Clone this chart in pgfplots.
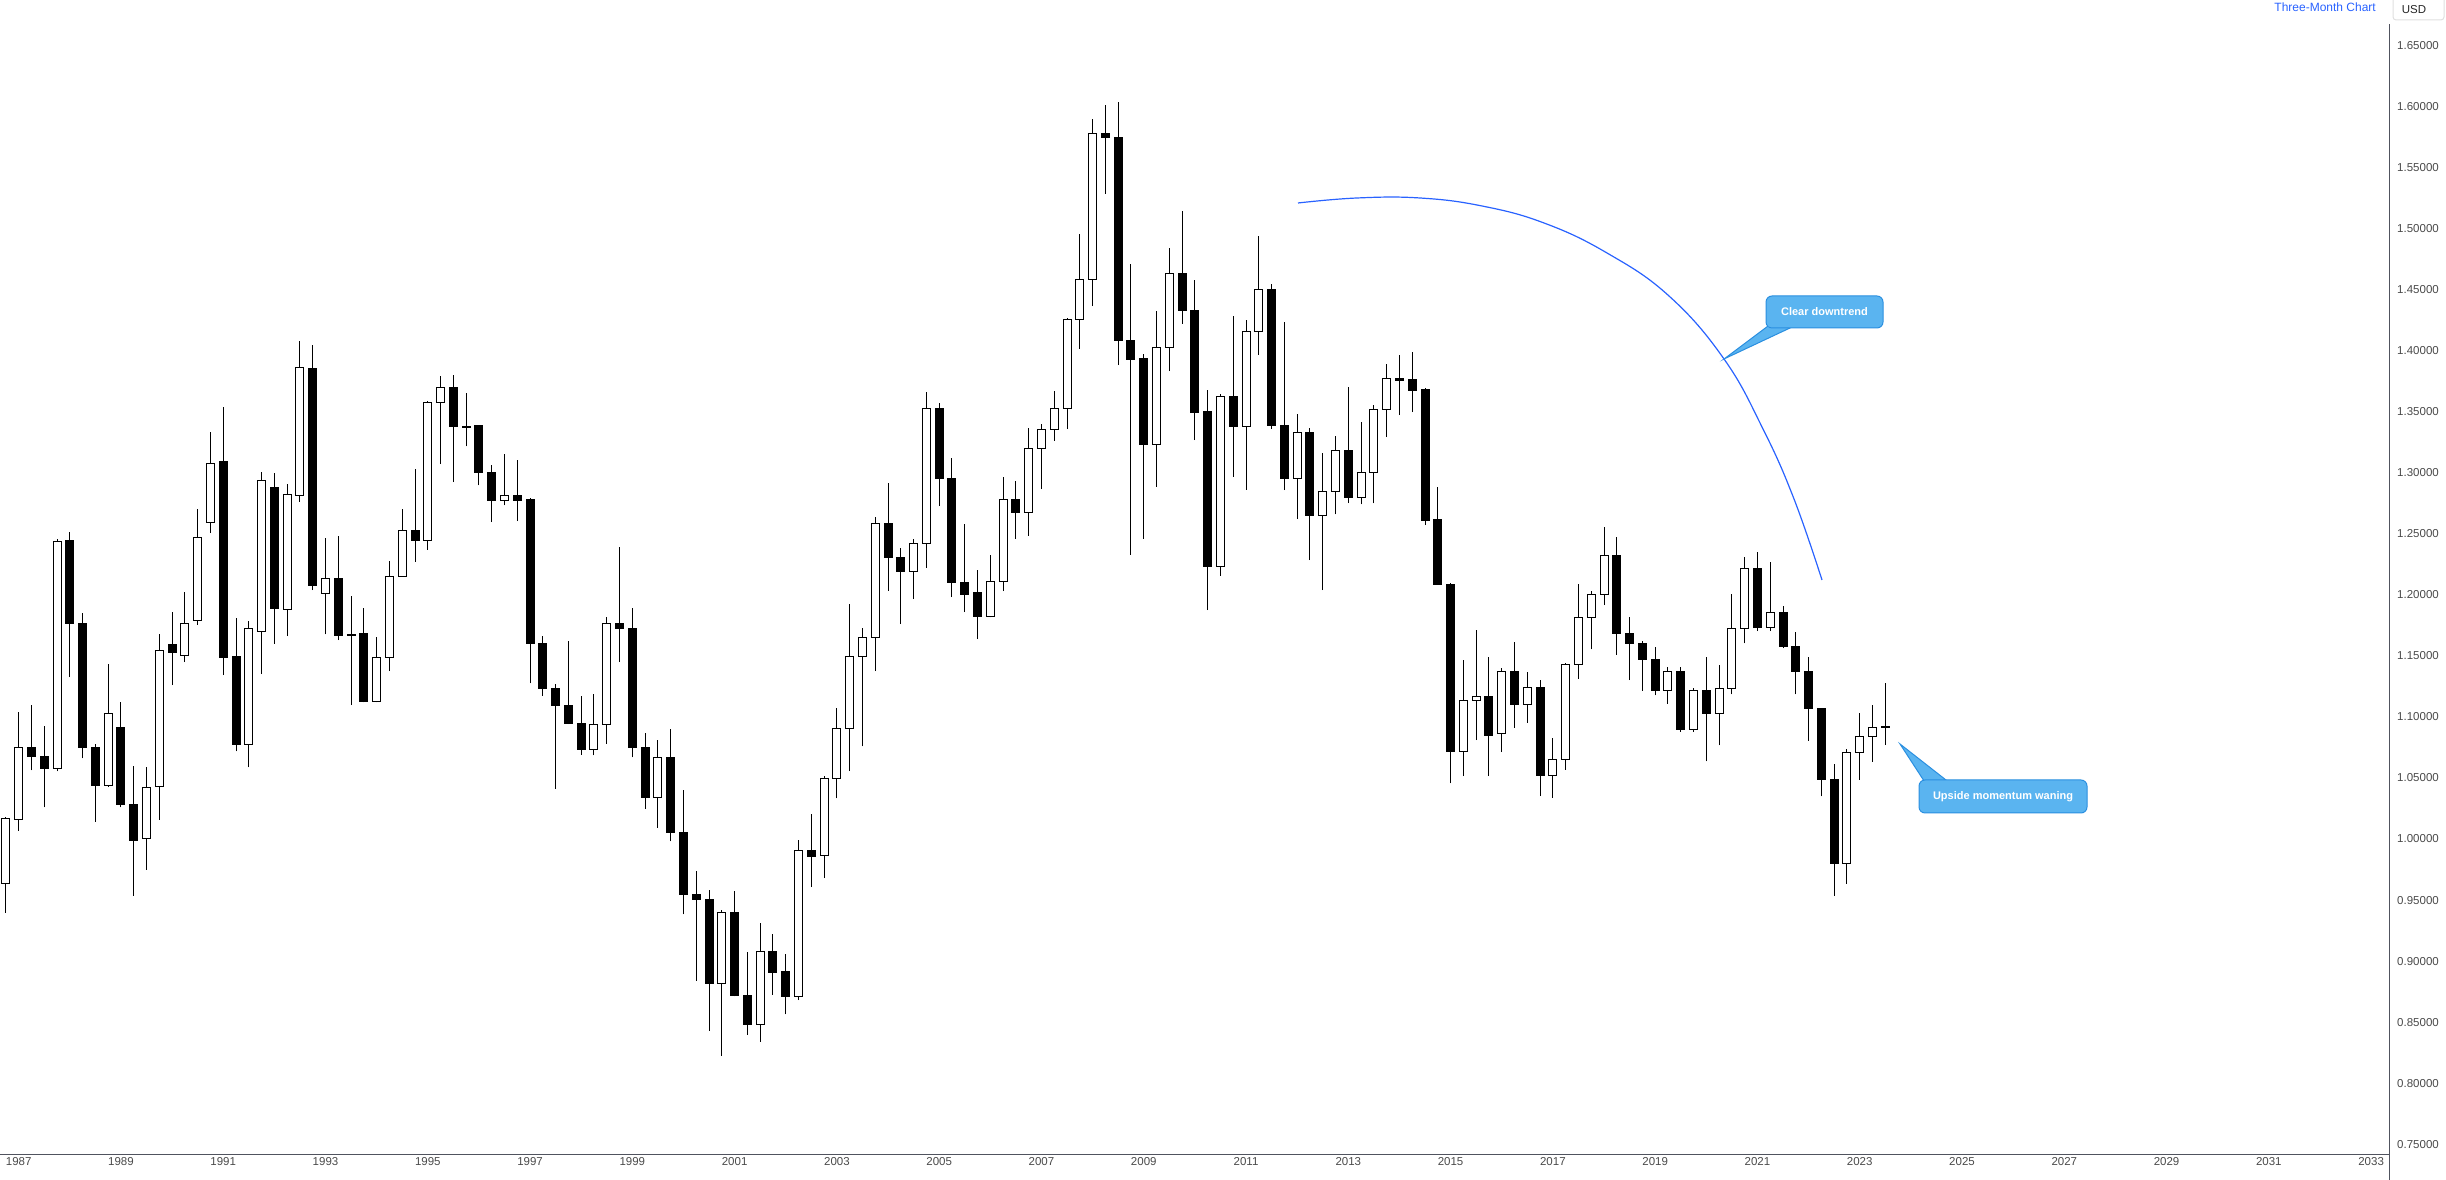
\documentclass[border=0pt]{standalone}
\usepackage{pgfplots}
\pgfplotsset{compat=1.18}
\usepackage{pgfplotstable}
\usepackage{fontspec}
\setmainfont{Liberation Sans}
\definecolor{axisgray}{HTML}{50535E}
\definecolor{labelgray}{HTML}{4A4A4A}
\definecolor{tvblue}{HTML}{2962FF}
\definecolor{callfill}{HTML}{5AB4F0}
\definecolor{callborder}{HTML}{2A8FE0}

\pgfplotstableread{
x o h l c
1986.75 0.9639 1.0181 0.9397 1.0170
1987.00 1.0162 1.1043 1.0068 1.0752
1987.25 1.0752 1.1101 1.0563 1.0678
1987.50 1.0680 1.0922 1.0259 1.0579
1987.75 1.0579 1.2456 1.0554 1.2437
1988.00 1.2445 1.2513 1.1326 1.1762
1988.25 1.1762 1.1851 1.0661 1.0752
1988.50 1.0752 1.0782 1.0143 1.0439
1988.75 1.0439 1.1430 1.0430 1.1026
1989.00 1.0912 1.1120 1.0259 1.0283
1989.25 1.0283 1.0600 0.9535 0.9990
1989.50 1.0001 1.0592 0.9749 1.0425
1989.75 1.0430 1.1678 1.0160 1.1543
1990.00 1.1593 1.1859 1.1260 1.1532
1990.25 1.1502 1.2024 1.1450 1.1765
1990.50 1.1790 1.2702 1.1754 1.2469
1990.75 1.2591 1.3332 1.2507 1.3075
1991.00 1.3094 1.3541 1.1342 1.1491
1991.25 1.1496 1.1809 1.0719 1.0776
1991.50 1.0771 1.1784 1.0588 1.1725
1991.75 1.1700 1.3003 1.1351 1.2935
1992.00 1.2878 1.2996 1.1598 1.1886
1992.25 1.1881 1.2905 1.1663 1.2821
1992.50 1.2812 1.4081 1.2761 1.3859
1992.75 1.3853 1.4049 1.2040 1.2073
1993.00 1.2011 1.2466 1.1677 1.2133
1993.25 1.2133 1.2482 1.1630 1.1671
1993.50 1.1676 1.1991 1.1097 1.1666
1993.75 1.1681 1.1891 1.1120 1.1128
1994.00 1.1128 1.1653 1.1120 1.1485
1994.25 1.1485 1.2279 1.1376 1.2152
1994.50 1.2152 1.2702 1.2148 1.2527
1994.75 1.2527 1.3029 1.2272 1.2444
1995.00 1.2444 1.3591 1.2371 1.3580
1995.25 1.3580 1.3796 1.3071 1.3703
1995.50 1.3703 1.3804 1.2924 1.3380
1995.75 1.3382 1.3658 1.3216 1.3372
1996.00 1.3385 1.3390 1.2897 1.2999
1996.25 1.2999 1.3061 1.2596 1.2776
1996.50 1.2776 1.3151 1.2733 1.2812
1996.75 1.2812 1.3101 1.2604 1.2776
1997.00 1.2782 1.2790 1.1276 1.1605
1997.25 1.1605 1.1667 1.1175 1.1235
1997.50 1.1235 1.1271 1.0410 1.1095
1997.75 1.1095 1.1621 1.0942 1.0948
1998.00 1.0948 1.1175 1.0689 1.0735
1998.25 1.0735 1.1191 1.0686 1.0937
1998.50 1.0937 1.1820 1.0779 1.1765
1998.75 1.1765 1.2392 1.1450 1.1724
1999.00 1.1724 1.1892 1.0670 1.0746
1999.25 1.0746 1.0865 1.0250 1.0341
1999.50 1.0341 1.0815 1.0094 1.0666
1999.75 1.0666 1.0898 0.9980 1.0055
2000.00 1.0055 1.0403 0.9382 0.9546
2000.25 0.9546 0.9742 0.8840 0.9507
2000.50 0.9507 0.9584 0.8430 0.8817
2000.75 0.8817 0.9420 0.8224 0.9400
2001.00 0.9400 0.9576 0.8712 0.8718
2001.25 0.8718 0.9077 0.8396 0.8479
2001.50 0.8479 0.9313 0.8339 0.9081
2001.75 0.9081 0.9225 0.8726 0.8906
2002.00 0.8912 0.9058 0.8563 0.8707
2002.25 0.8707 0.9989 0.8680 0.9905
2002.50 0.9905 1.0202 0.9607 0.9861
2002.75 0.9864 1.0515 0.9679 1.0494
2003.00 1.0494 1.1074 1.0334 1.0902
2003.25 1.0902 1.1927 1.0557 1.1494
2003.50 1.1494 1.1732 1.0760 1.1648
2003.75 1.1648 1.2641 1.1375 1.2582
2004.00 1.2582 1.2920 1.2036 1.2304
2004.25 1.2304 1.2381 1.1761 1.2190
2004.50 1.2190 1.2454 1.1965 1.2425
2004.75 1.2425 1.3660 1.2221 1.3523
2005.00 1.3523 1.3572 1.2727 1.2950
2005.25 1.2950 1.3118 1.1981 1.2098
2005.50 1.2098 1.2584 1.1858 1.2007
2005.75 1.2020 1.2202 1.1638 1.1826
2006.00 1.1826 1.2325 1.1815 1.2108
2006.25 1.2108 1.2969 1.2030 1.2778
2006.50 1.2778 1.2937 1.2458 1.2671
2006.75 1.2671 1.3365 1.2484 1.3196
2007.00 1.3196 1.3400 1.2866 1.3352
2007.25 1.3352 1.3672 1.3261 1.3523
2007.50 1.3523 1.4272 1.3358 1.4252
2007.75 1.4252 1.4958 1.4016 1.4583
2008.00 1.4583 1.5895 1.4366 1.5778
2008.25 1.5778 1.6011 1.5286 1.5746
2008.50 1.5749 1.6034 1.3883 1.4081
2008.75 1.4081 1.4712 1.2328 1.3932
2009.00 1.3938 1.3977 1.2458 1.3235
2009.25 1.3235 1.4327 1.2885 1.4026
2009.50 1.4026 1.4839 1.3834 1.4631
2009.75 1.4631 1.5143 1.4223 1.4327
2010.00 1.4327 1.4576 1.3267 1.3498
2010.25 1.3501 1.3679 1.1875 1.2231
2010.50 1.2231 1.3646 1.2155 1.3624
2010.75 1.3624 1.4282 1.2969 1.3380
2011.00 1.3380 1.4250 1.2860 1.4160
2011.25 1.4160 1.4940 1.3968 1.4500
2011.50 1.4500 1.4550 1.3360 1.3390
2011.75 1.3386 1.4238 1.2859 1.2951
2012.00 1.2951 1.3479 1.2621 1.3328
2012.25 1.3328 1.3369 1.2285 1.2648
2012.50 1.2648 1.3164 1.2039 1.2845
2012.75 1.2845 1.3304 1.2659 1.3181
2013.00 1.3181 1.3705 1.2752 1.2801
2013.25 1.2801 1.3413 1.2741 1.3001
2013.50 1.3001 1.3558 1.2749 1.3517
2013.75 1.3517 1.3888 1.3293 1.3771
2014.00 1.3771 1.3962 1.3473 1.3760
2014.25 1.3763 1.3986 1.3498 1.3678
2014.50 1.3681 1.3692 1.2572 1.2613
2014.75 1.2616 1.2880 1.2085 1.2088
2015.00 1.2088 1.2095 1.0455 1.0720
2015.25 1.0720 1.1463 1.0516 1.1133
2015.50 1.1133 1.1709 1.0810 1.1165
2015.75 1.1165 1.1488 1.0516 1.0851
2016.00 1.0862 1.1403 1.0712 1.1370
2016.25 1.1370 1.1616 1.0912 1.1103
2016.50 1.1103 1.1366 1.0952 1.1240
2016.75 1.1240 1.1299 1.0352 1.0517
2017.00 1.0517 1.0829 1.0340 1.0652
2017.25 1.0652 1.1445 1.0569 1.1426
2017.50 1.1426 1.2092 1.1312 1.1813
2017.75 1.1813 1.2030 1.1554 1.2005
2018.00 1.2005 1.2556 1.1916 1.2324
2018.25 1.2324 1.2476 1.1510 1.1684
2018.50 1.1684 1.1815 1.1301 1.1604
2018.75 1.1604 1.1621 1.1216 1.1467
2019.00 1.1467 1.1570 1.1176 1.1217
2019.25 1.1217 1.1412 1.1107 1.1370
2019.50 1.1370 1.1412 1.0879 1.0900
2019.75 1.0900 1.1240 1.0879 1.1213
2020.00 1.1213 1.1495 1.0636 1.1031
2020.25 1.1031 1.1422 1.0768 1.1234
2020.50 1.1234 1.2011 1.1185 1.1721
2020.75 1.1721 1.2309 1.1603 1.2216
2021.00 1.2216 1.2349 1.1704 1.1730
2021.25 1.1730 1.2266 1.1704 1.1858
2021.50 1.1858 1.1909 1.1563 1.1580
2021.75 1.1580 1.1692 1.1186 1.1372
2022.00 1.1372 1.1495 1.0806 1.1067
2022.25 1.1067 1.1076 1.0350 1.0484
2022.50 1.0484 1.0615 0.9536 0.9801
2022.75 0.9801 1.0736 0.9632 1.0705
2023.00 1.0705 1.1033 1.0484 1.0839
2023.25 1.0839 1.1095 1.0635 1.0910
2023.50 1.0910 1.1276 1.0770 1.0922
}\quotes

\pgfplotsset{
  candleaxis/.style={
    at={(0,25)}, anchor=south west, scale only axis,
    width=2389pt, height=1155pt,
    xmin=1986.635, xmax=2033.35,
    ymin=0.74569, ymax=1.69195,
  }
}

\begin{document}
\begin{tikzpicture}[x=1pt,y=1pt]
\path[use as bounding box] (0,0) rectangle (2446,1180);

% axis with ticks and wicks
\begin{axis}[candleaxis,
  axis line style={draw=none},
  tick style={draw=none},
  xtick={1987,1989,1991,1993,1995,1997,1999,2001,2003,2005,2007,2009,2011,2013,2015,2017,2019,2021,2023,2025,2027,2029,2031,2033},
  xticklabels={1987,1989,1991,1993,1995,1997,1999,2001,2003,2005,2007,2009,2011,2013,2015,2017,2019,2021,2023,2025,2027,2029,2031,2033},
  xticklabel style={anchor=north, inner sep=0pt, yshift=-8pt, font=\fontsize{11.5}{13}\selectfont, text=labelgray},
  ytick={0.75,0.80,0.85,0.90,0.95,1.00,1.05,1.10,1.15,1.20,1.25,1.30,1.35,1.40,1.45,1.50,1.55,1.60,1.65},
  yticklabels={0.75000,0.80000,0.85000,0.90000,0.95000,1.00000,1.05000,1.10000,1.15000,1.20000,1.25000,1.30000,1.35000,1.40000,1.45000,1.50000,1.55000,1.60000,1.65000},
  yticklabel pos=right,
  yticklabel style={anchor=west, inner sep=0pt, xshift=8pt, font=\fontsize{11.5}{13}\selectfont, text=labelgray},
  clip=false,
]
\addplot[draw=none, mark=none, forget plot,
  error bars/.cd, y dir=plus, y explicit, error mark=none,
  error bar style={line width=1pt, black}]
  table[x=x, y=l, y error plus expr={\thisrow{h}-\thisrow{l}}] \quotes;
\end{axis}

% candle bodies
\begin{axis}[candleaxis, hide axis, ybar stacked, bar width=8pt, clip=false]
\addplot[draw=none, fill=none] table[x=x, y expr={min(\thisrow{o},\thisrow{c})}] \quotes;
\addplot[draw=black, fill=white, line width=1pt] table[x=x, y expr={max(\thisrow{c}-\thisrow{o},0)}] \quotes;
\addplot[draw=black, fill=black, line width=1pt] table[x=x, y expr={max(\thisrow{o}-\thisrow{c},0)}] \quotes;
\end{axis}

% frame lines
\draw[axisgray, line width=1pt] (2389.5,0) -- (2389.5,1156);
\draw[axisgray, line width=1pt] (0,25) -- (2389.5,25);

% arc annotation
\draw[tvblue, line width=1.2pt] plot[smooth, tension=0.7] coordinates {
 (1298,977) (1357,982) (1420,982) (1482,974) (1544,957) (1607,927)
 (1669,884) (1724,821) (1763,751) (1794,681) (1822,600)};

% callout 1
\filldraw[fill=callfill, draw=callborder, line width=1pt] (1724,821) -- (1772,857) -- (1790,852) -- cycle;
\filldraw[fill=callfill, draw=callborder, line width=1pt, rounded corners=6pt] (1766,852) rectangle (1883,884);
\fill[callfill] (1768,853.5) -- (1789,853.5) -- (1775,858) -- cycle;
\node[text=white, font=\bfseries\fontsize{11}{13}\selectfont] at (1824.5,868) {Clear downtrend};

% callout 2
\filldraw[fill=callfill, draw=callborder, line width=1pt] (1900,436) -- (1926,396) -- (1946,400) -- cycle;
\filldraw[fill=callfill, draw=callborder, line width=1pt, rounded corners=6pt] (1919,367) rectangle (2087,400);
\fill[callfill] (1922,398.5) -- (1944,398.5) -- (1927,394) -- cycle;
\node[text=white, font=\bfseries\fontsize{11}{13}\selectfont] at (2003,383.5) {Upside momentum waning};

% top right labels
\node[anchor=east, text=tvblue, font=\fontsize{12}{14}\selectfont, inner sep=0pt] at (2376,1173) {Three-Month Chart};
\draw[fill=white, draw=black!12, line width=1pt, rounded corners=3pt] (2393,1160) rectangle (2444,1185);
\node[text=black!85, font=\fontsize{11.5}{13}\selectfont, inner sep=0pt] at (2414,1170) {USD};
\end{tikzpicture}
\end{document}
